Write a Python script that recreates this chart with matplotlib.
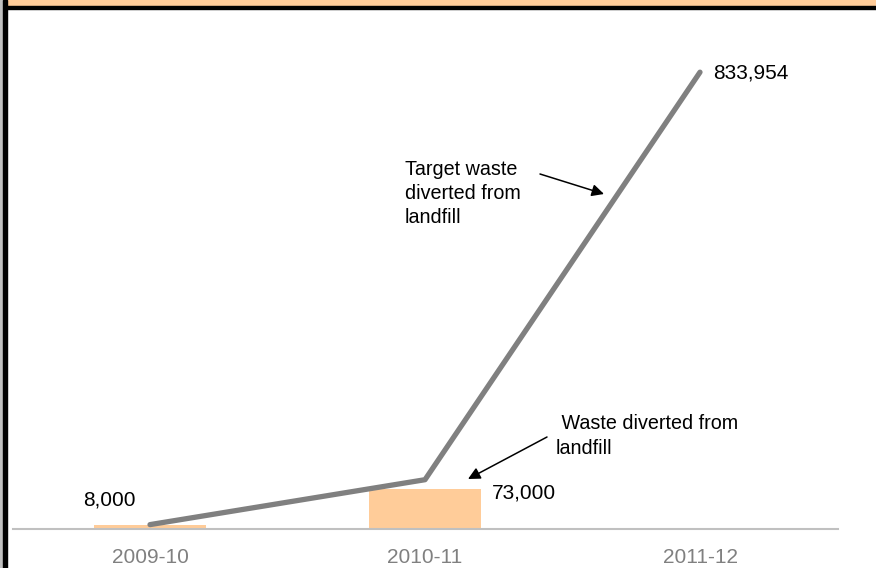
import matplotlib
matplotlib.use("Agg")
import matplotlib.pyplot as plt
from matplotlib.patches import Rectangle

plt.rcParams['font.family'] = ['Liberation Sans', 'DejaVu Sans']

years = ["2009-10", "2010-11", "2011-12"]
diverted = [8000, 73000, 0]          # actual waste diverted from landfill
target = [8000, 90000, 833954]       # target waste diverted from landfill
bar_labels = ["8,000", "73,000", None]
target_label = "833,954"

W, H = 876, 568
FS = 15
FS_NOTE = 14.2
fig = plt.figure(figsize=(W / 100, H / 100), dpi=100)

# frame decoration: peach band on top, dark rules on the left and below the band
fig.patches.append(Rectangle((0, 1 - 6 / H), 1, 6 / H, transform=fig.transFigure,
                             color="#FFCC99", zorder=0))
fig.patches.append(Rectangle((0, 1 - 8.5 / H), 1, 2.5 / H, transform=fig.transFigure,
                             color="black", zorder=1))
fig.patches.append(Rectangle((0, 0), 3 / W, 1, transform=fig.transFigure,
                             color="#C0C0C0", zorder=1))
fig.patches.append(Rectangle((3 / W, 0), 4 / W, 1, transform=fig.transFigure,
                             color="black", zorder=1))

ax_left, ax_right = 12.5 / W, 837.5 / W
ax_bottom = 1 - 529 / H
ax_top = 1 - 36 / H
ax = fig.add_axes([ax_left, ax_bottom, ax_right - ax_left, ax_top - ax_bottom])

x = range(len(years))
ax.bar(x, diverted, width=0.405, color="#FFCC99", zorder=2)
ax.plot(x, target, color="#808080", lw=3.8, solid_capstyle="round", zorder=3)

ax.set_xlim(-0.5, 2.5)
ax.set_ylim(0, 900000)
ax.set_xticks(list(x))
ax.set_xticklabels(years, fontsize=FS, color="#808080")
ax.tick_params(axis="x", length=0, pad=14)
ax.set_yticks([])
for s in ["top", "right", "left"]:
    ax.spines[s].set_visible(False)
ax.spines["bottom"].set_color("#C0C0C0")
ax.spines["bottom"].set_linewidth(1.5)

# value labels
ax.annotate(bar_labels[0], xy=(0, diverted[0]), xytext=(-41, 25),
            textcoords="offset pixels", ha="center", va="center", fontsize=FS)
ax.annotate(bar_labels[1], xy=(1, diverted[1]), xytext=(67, -4),
            textcoords="offset pixels", ha="left", va="center", fontsize=FS)
ax.annotate(target_label, xy=(2, target[2]), xytext=(13, -1),
            textcoords="offset pixels", ha="left", va="center", fontsize=FS)

# callouts
fig.text(405 / W, 1 - 160 / H, "Target waste\ndiverted from\nlandfill",
         ha="left", va="top", fontsize=FS_NOTE, linespacing=1.34)
ax.annotate("", xy=(604, H - 194), xycoords="figure pixels",
            xytext=(540, H - 174), textcoords="figure pixels",
            arrowprops=dict(arrowstyle="-|>", color="black", lw=1.1,
                            mutation_scale=18, shrinkA=0, shrinkB=0))
fig.text(556 / W, 1 - 414 / H, " Waste diverted from\nlandfill",
         ha="left", va="top", fontsize=FS_NOTE, linespacing=1.43)
ax.annotate("", xy=(468, H - 479), xycoords="figure pixels",
            xytext=(547, H - 437), textcoords="figure pixels",
            arrowprops=dict(arrowstyle="-|>", color="black", lw=1.1,
                            mutation_scale=18, shrinkA=0, shrinkB=0))

fig.savefig("out.png", dpi=100)
